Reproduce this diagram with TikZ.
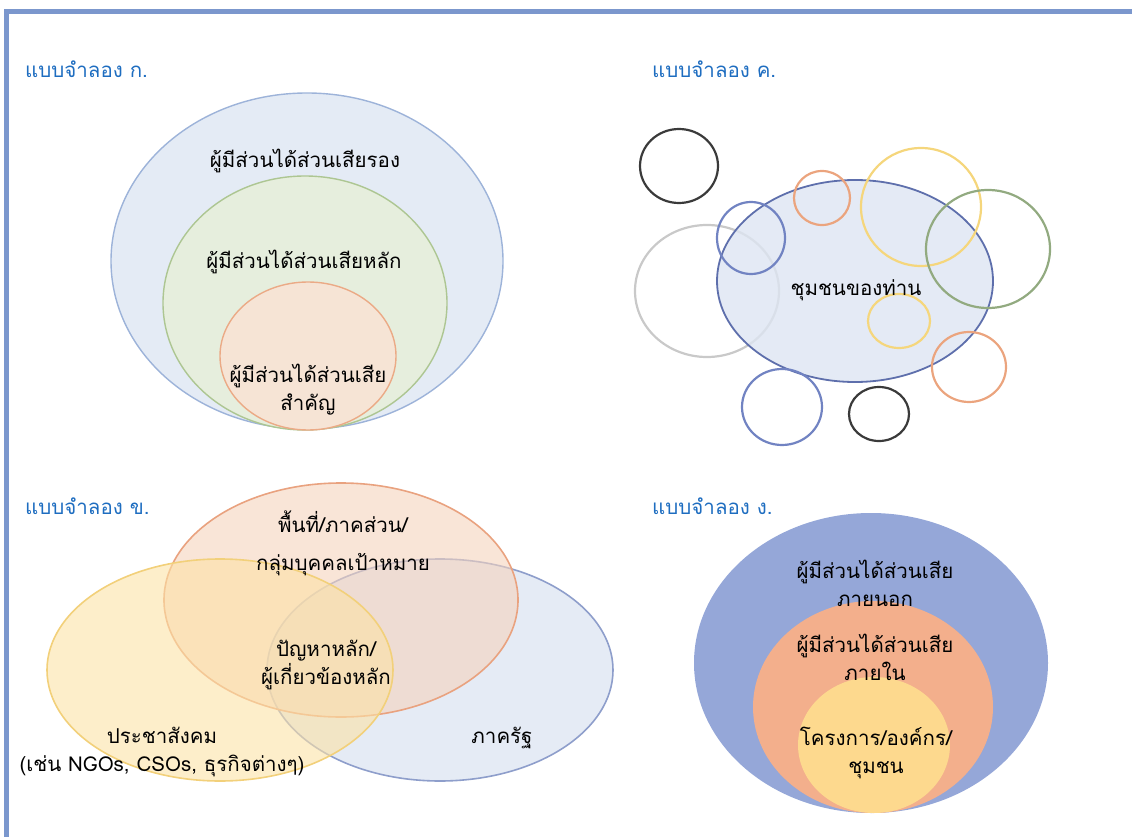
\documentclass[tikz,border=0pt]{standalone}
\usepackage{fontspec}
\usepackage{xcolor}
\usepackage{tikz}
\newfontfamily\thaifont[Script=Thai]{Loma}
\definecolor{frameblue}{HTML}{7B97CD}
\definecolor{titleblue}{HTML}{1E6DC0}
\definecolor{blueA}{HTML}{9DB3D9}
\definecolor{bluefillA}{HTML}{E4EBF5}
\definecolor{greenA}{HTML}{ADC692}
\definecolor{greenfillA}{HTML}{E6EEDD}
\definecolor{orangeA}{HTML}{EBAA86}
\definecolor{orangefillA}{HTML}{F6E4D5}
\definecolor{commfill}{HTML}{DDE5F2}
\definecolor{commedge}{HTML}{5E6FAC}
\definecolor{ringblack}{HTML}{3A3A3A}
\definecolor{ringgray}{HTML}{C9C9C9}
\definecolor{ringblue}{HTML}{7183C2}
\definecolor{ringorange}{HTML}{EBA47E}
\definecolor{ringyellow}{HTML}{F5D67C}
\definecolor{ringgreen}{HTML}{92AA80}
\definecolor{vennorange}{HTML}{F5D3BC}
\definecolor{vennorangeedge}{HTML}{E9A27F}
\definecolor{vennyellow}{HTML}{FCE2A6}
\definecolor{vennyellowedge}{HTML}{F2D07A}
\definecolor{vennblue}{HTML}{D3DDEE}
\definecolor{vennblueedge}{HTML}{8E9ECB}
\definecolor{outerD}{HTML}{95A7D8}
\definecolor{middleD}{HTML}{F3AF8C}
\definecolor{innerD}{HTML}{FDD98E}
\tikzset{style={font=\thaifont\fontsize{20.5}{28}\selectfont}}

\begin{document}
\begin{tikzpicture}[x=1pt,y=-1pt,
    lbl/.style={align=center,inner sep=0pt},
    ttl/.style={anchor=west,inner sep=0pt,text=titleblue},
    ring/.style={line width=2.2pt},
    venn/.style={line width=1.6pt,fill opacity=0.6}]
  \useasboundingbox (0,0) rectangle (1132,837);
  \draw[frameblue,line width=5pt] (6.5,837) -- (6.5,12) -- (1132,12);

  % model A
  \node[ttl] (titleA) at (25,69) {แบบจำลอง ก.};
  \draw[blueA,fill=bluefillA,line width=1.4pt] (307,261) ellipse [x radius=196,y radius=168];
  \draw[greenA,fill=greenfillA,line width=1.4pt] (305,303) ellipse [x radius=142,y radius=127];
  \draw[orangeA,fill=orangefillA,line width=1.4pt] (308,356) ellipse [x radius=88,y radius=74];
  \node[lbl] (minorA) at (305,161) {ผู้มีส่วนได้ส่วนเสียรอง};
  \node[lbl] (mainA) at (304,262) {ผู้มีส่วนได้ส่วนเสียหลัก};
  \node[lbl] (keyA) at (308,390) {ผู้มีส่วนได้ส่วนเสีย\\สำคัญ};

  % model C
  \node[ttl] (titleC) at (652,69) {แบบจำลอง ค.};
  \draw[ringgray,ring] (707,291) ellipse [x radius=72,y radius=66];
  \draw[commedge,fill=commfill,fill opacity=0.8,line width=1.8pt] (855,281) ellipse [x radius=138,y radius=101];
  \draw[ringblack,ring] (679,166) ellipse [x radius=39,y radius=37];
  \draw[ringblue,ring] (751,238) ellipse [x radius=34,y radius=36];
  \draw[ringorange,ring] (822,198) ellipse [x radius=28,y radius=27];
  \draw[ringyellow,ring] (921,207) ellipse [x radius=60,y radius=59];
  \draw[ringgreen,ring] (988,249) ellipse [x radius=62,y radius=59];
  \draw[ringyellow,ring] (899,321) ellipse [x radius=31,y radius=27];
  \draw[ringorange,ring] (969,367) ellipse [x radius=37,y radius=35];
  \draw[ringblue,ring] (782,407) ellipse [x radius=40,y radius=38];
  \draw[ringblack,ring] (879,414) ellipse [x radius=30,y radius=27];
  \node[lbl] (commC) at (856,290) {ชุมชนของท่าน};

  % model B
  \node[ttl] (titleB) at (25,506) {แบบจำลอง ข.};
  \draw[venn,draw=vennblueedge,fill=vennblue] (440,670) ellipse [x radius=173,y radius=111];
  \draw[venn,draw=vennorangeedge,fill=vennorange] (341,600) ellipse [x radius=177,y radius=117];
  \draw[venn,draw=vennyellowedge,fill=vennyellow] (220,670) ellipse [x radius=173,y radius=111];
  \node[lbl] (targetB) at (343,543) {พื้นที่/ภาคส่วน/\\[10pt]กลุ่มบุคคลเป้าหมาย};
  \node[lbl] (coreB) at (326,665) {ปัญหาหลัก/\\ผู้เกี่ยวข้องหลัก};
  \node[lbl] (civilB) at (162,752) {ประชาสังคม\\(เช่น NGOs, CSOs, ธุรกิจต่างๆ)};
  \node[lbl] (stateB) at (502,738) {ภาครัฐ};

  % model D
  \node[ttl] (titleD) at (652,506) {แบบจำลอง ง.};
  \fill[outerD] (871,663) ellipse [x radius=177,y radius=150];
  \fill[middleD] (873,707) ellipse [x radius=120,y radius=106];
  \fill[innerD] (874,745) ellipse [x radius=76,y radius=68];
  \node[lbl] (outerLbl) at (875,583) {ผู้มีส่วนได้ส่วนเสีย\\ภายนอก};
  \node[lbl] (innerLbl) at (875,657) {ผู้มีส่วนได้ส่วนเสีย\\ภายใน};
  \node[lbl] (projLbl) at (876,753) {โครงการ/องค์กร/\\ชุมชน};
\end{tikzpicture}
\end{document}
